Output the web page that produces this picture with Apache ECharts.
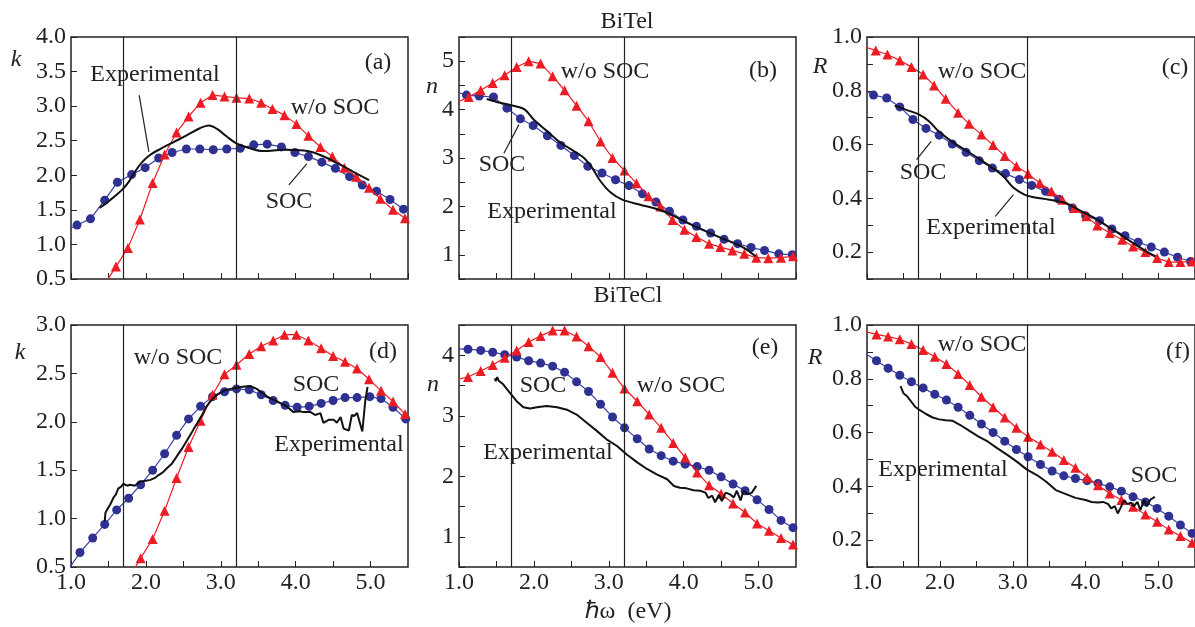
<!DOCTYPE html>
<html>
<head>
<meta charset="utf-8">
<script src="https://cdn.jsdelivr.net/npm/echarts@6/dist/echarts.min.js"></script>
<style>html,body{margin:0;padding:0;background:#fff}#chart{width:1195px;height:627px}</style>
</head>
<body>
<div id="chart"></div>
<script>
// photon energy (eV) vs value
const aSoc = [[0.90,1.19],[1.08,1.28],[1.26,1.37],[1.45,1.64],[1.62,1.90],[1.81,2.01],[1.99,2.11],[2.17,2.25],[2.35,2.33],[2.54,2.38],[2.72,2.38],[2.90,2.37],[3.08,2.38],[3.26,2.39],[3.44,2.44],[3.62,2.45],[3.81,2.41],[3.99,2.33],[4.17,2.27],[4.35,2.19],[4.53,2.10],[4.72,1.98],[4.89,1.86],[5.08,1.77],[5.26,1.65],[5.44,1.51]]
const aWoSoc = [[1.44,0.41],[1.60,0.68],[1.76,0.95],[1.92,1.36],[2.09,1.89],[2.25,2.30],[2.41,2.62],[2.57,2.85],[2.73,3.05],[2.89,3.16],[3.05,3.14],[3.21,3.12],[3.38,3.11],[3.54,3.05],[3.69,2.96],[3.85,2.87],[4.01,2.74],[4.17,2.57],[4.33,2.41],[4.49,2.27],[4.65,2.11],[4.81,1.98],[4.98,1.82],[5.13,1.66],[5.30,1.50],[5.46,1.38]]
const aExp = [[1.38,1.53],[1.45,1.58],[1.52,1.64],[1.62,1.73],[1.70,1.81],[1.78,1.92],[1.86,2.06],[1.95,2.19],[2.05,2.29],[2.19,2.38],[2.37,2.48],[2.55,2.58],[2.72,2.68],[2.84,2.72],[2.95,2.67],[3.08,2.56],[3.21,2.46],[3.39,2.39],[3.57,2.35],[3.84,2.37],[4.11,2.36],[4.24,2.33],[4.42,2.25],[4.60,2.15],[4.77,2.05],[4.98,1.93]]

const bSoc = [[0.90,4.40],[1.10,4.30],[1.27,4.28],[1.46,4.26],[1.64,4.03],[1.82,3.81],[1.99,3.67],[2.18,3.46],[2.36,3.26],[2.54,3.05],[2.72,2.83],[2.91,2.69],[3.09,2.55],[3.27,2.43],[3.45,2.26],[3.63,2.09],[3.81,1.90],[3.99,1.72],[4.17,1.59],[4.36,1.45],[4.54,1.32],[4.72,1.23],[4.90,1.15],[5.08,1.09],[5.27,1.02],[5.45,1.00]]
const bWoSoc = [[0.97,4.15],[1.13,4.26],[1.29,4.40],[1.45,4.55],[1.61,4.71],[1.77,4.88],[1.93,5.00],[2.09,4.95],[2.25,4.69],[2.41,4.40],[2.57,4.08],[2.73,3.76],[2.89,3.34],[3.05,3.00],[3.21,2.74],[3.37,2.48],[3.53,2.21],[3.69,2.00],[3.85,1.72],[4.01,1.52],[4.17,1.37],[4.34,1.23],[4.49,1.16],[4.65,1.09],[4.81,1.02],[4.97,0.94],[5.13,0.93],[5.30,0.94],[5.46,0.97]]
const bExp = [[1.37,4.22],[1.55,4.14],[1.78,4.06],[1.88,4.00],[2.00,3.79],[2.18,3.55],[2.36,3.31],[2.54,3.14],[2.67,3.00],[2.78,2.79],[2.89,2.52],[3.03,2.28],[3.18,2.14],[3.43,2.03],[3.65,1.94],[3.83,1.83],[4.05,1.66],[4.23,1.53],[4.45,1.38],[4.67,1.24],[4.81,1.14],[4.96,0.97]]

const cSoc = [[0.90,0.81],[1.09,0.784],[1.27,0.773],[1.45,0.740],[1.63,0.693],[1.81,0.660],[1.99,0.635],[2.17,0.602],[2.36,0.571],[2.54,0.540],[2.72,0.513],[2.90,0.492],[3.09,0.470],[3.26,0.448],[3.45,0.426],[3.63,0.397],[3.82,0.364],[4.00,0.335],[4.19,0.317],[4.36,0.286],[4.54,0.261],[4.72,0.237],[4.90,0.219],[5.08,0.200],[5.26,0.181],[5.44,0.165]]
const cWoSoc = [[0.95,0.965],[1.12,0.950],[1.28,0.935],[1.45,0.913],[1.61,0.888],[1.77,0.861],[1.92,0.820],[2.08,0.770],[2.25,0.718],[2.40,0.677],[2.57,0.637],[2.73,0.598],[2.89,0.557],[3.05,0.519],[3.21,0.491],[3.37,0.457],[3.53,0.426],[3.68,0.395],[3.84,0.364],[4.01,0.333],[4.16,0.299],[4.33,0.271],[4.50,0.246],[4.65,0.221],[4.82,0.200],[4.98,0.178],[5.14,0.163],[5.30,0.163],[5.46,0.165]]
const cExp = [[1.38,0.745],[1.53,0.730],[1.71,0.712],[1.85,0.687],[1.98,0.650],[2.16,0.612],[2.34,0.581],[2.52,0.550],[2.69,0.519],[2.87,0.482],[3.01,0.439],[3.16,0.414],[3.27,0.405],[3.50,0.395],[3.72,0.383],[3.94,0.352],[4.12,0.327],[4.30,0.296],[4.48,0.265],[4.65,0.234],[4.83,0.203],[4.96,0.184]]

const dSoc = [[0.90,0.40],[1.12,0.65],[1.29,0.80],[1.45,0.94],[1.61,1.09],[1.77,1.21],[1.93,1.35],[2.09,1.50],[2.25,1.67],[2.41,1.86],[2.57,2.03],[2.73,2.16],[2.89,2.26],[3.05,2.31],[3.21,2.34],[3.38,2.33],[3.54,2.28],[3.70,2.22],[3.86,2.17],[4.02,2.15],[4.18,2.16],[4.34,2.19],[4.50,2.22],[4.66,2.25],[4.82,2.25],[4.99,2.26],[5.14,2.24],[5.30,2.15],[5.47,2.03]]
const dWoSoc = [[1.77,0.38],[1.93,0.59],[2.09,0.79],[2.25,1.08],[2.41,1.42],[2.57,1.74],[2.73,2.01],[2.89,2.28],[3.05,2.49],[3.21,2.59],[3.38,2.70],[3.54,2.78],[3.70,2.84],[3.85,2.90],[4.01,2.90],[4.17,2.84],[4.34,2.76],[4.50,2.68],[4.66,2.62],[4.82,2.55],[4.98,2.44],[5.14,2.32],[5.30,2.21],[5.46,2.08]]
const dExp = [[1.45,0.97],[1.46,1.06],[1.48,1.09],[1.52,1.14],[1.54,1.12],[1.57,1.22],[1.60,1.25],[1.63,1.31],[1.67,1.33],[1.70,1.36],[1.75,1.34],[1.79,1.35],[1.85,1.34],[1.92,1.38],[2.00,1.39],[2.06,1.40],[2.12,1.42],[2.17,1.45],[2.23,1.48],[2.28,1.52],[2.35,1.57],[2.41,1.64],[2.48,1.72],[2.55,1.81],[2.62,1.90],[2.68,1.98],[2.75,2.07],[2.81,2.16],[2.88,2.23],[2.95,2.28],[3.04,2.32],[3.13,2.34],[3.26,2.36],[3.39,2.37],[3.48,2.34],[3.55,2.30],[3.62,2.26],[3.75,2.21],[3.88,2.16],[3.97,2.10],[4.05,2.11],[4.11,2.10],[4.20,2.10],[4.26,2.07],[4.33,2.09],[4.37,1.99],[4.44,2.02],[4.51,2.02],[4.55,1.99],[4.60,2.05],[4.64,1.93],[4.71,1.91],[4.75,2.07],[4.78,2.06],[4.82,2.09],[4.89,1.90],[4.93,2.22],[4.96,2.36]]

const eSoc = [[0.90,4.11],[1.12,4.10],[1.29,4.08],[1.45,4.05],[1.61,4.01],[1.77,3.97],[1.93,3.91],[2.09,3.87],[2.25,3.82],[2.41,3.72],[2.57,3.56],[2.73,3.40],[2.89,3.19],[3.05,2.98],[3.21,2.80],[3.38,2.62],[3.54,2.45],[3.70,2.34],[3.86,2.25],[4.02,2.20],[4.18,2.16],[4.34,2.10],[4.50,1.99],[4.66,1.87],[4.82,1.76],[4.98,1.61],[5.14,1.45],[5.30,1.27],[5.46,1.15]]
const eWoSoc = [[0.90,3.58],[1.12,3.64],[1.29,3.74],[1.45,3.84],[1.61,3.96],[1.77,4.08],[1.93,4.22],[2.09,4.32],[2.25,4.41],[2.41,4.41],[2.57,4.31],[2.73,4.15],[2.89,3.97],[3.05,3.71],[3.21,3.45],[3.38,3.24],[3.54,3.02],[3.70,2.80],[3.86,2.55],[4.02,2.31],[4.18,2.06],[4.34,1.85],[4.50,1.71],[4.66,1.55],[4.82,1.40],[4.98,1.22],[5.14,1.10],[5.30,0.98],[5.46,0.87]]
const eExp = [[1.48,3.62],[1.49,3.57],[1.51,3.64],[1.53,3.58],[1.59,3.52],[1.68,3.38],[1.77,3.24],[1.86,3.14],[1.95,3.12],[2.04,3.14],[2.17,3.16],[2.31,3.14],[2.44,3.10],[2.57,3.02],[2.71,2.88],[2.84,2.75],[2.97,2.61],[3.11,2.50],[3.24,2.36],[3.38,2.23],[3.51,2.12],[3.64,2.03],[3.78,1.95],[3.87,1.84],[3.95,1.81],[4.04,1.80],[4.13,1.77],[4.22,1.76],[4.29,1.73],[4.33,1.64],[4.38,1.68],[4.42,1.57],[4.47,1.69],[4.51,1.59],[4.56,1.73],[4.62,1.70],[4.67,1.65],[4.71,1.76],[4.76,1.60],[4.80,1.76],[4.85,1.70],[4.91,1.73],[4.97,1.84]]

const fSoc = [[0.90,0.907],[1.13,0.867],[1.29,0.839],[1.45,0.813],[1.61,0.789],[1.77,0.766],[1.93,0.742],[2.09,0.721],[2.25,0.694],[2.41,0.664],[2.57,0.632],[2.73,0.600],[2.89,0.568],[3.05,0.537],[3.21,0.510],[3.38,0.481],[3.54,0.457],[3.70,0.439],[3.86,0.429],[4.02,0.421],[4.17,0.411],[4.33,0.398],[4.49,0.382],[4.65,0.361],[4.82,0.342],[4.98,0.318],[5.14,0.289],[5.30,0.256],[5.46,0.225]]
const fWoSoc = [[0.90,0.98],[1.13,0.965],[1.29,0.957],[1.45,0.947],[1.61,0.929],[1.77,0.907],[1.93,0.882],[2.09,0.855],[2.25,0.818],[2.41,0.777],[2.57,0.733],[2.73,0.694],[2.89,0.656],[3.05,0.618],[3.21,0.584],[3.38,0.556],[3.54,0.529],[3.70,0.498],[3.86,0.469],[4.02,0.433],[4.17,0.404],[4.33,0.373],[4.49,0.349],[4.65,0.324],[4.82,0.295],[4.98,0.268],[5.14,0.239],[5.30,0.215],[5.46,0.190]]
const fExp = [[1.46,0.773],[1.48,0.760],[1.50,0.746],[1.55,0.735],[1.59,0.721],[1.66,0.696],[1.72,0.684],[1.81,0.669],[1.90,0.656],[1.99,0.649],[2.08,0.646],[2.17,0.644],[2.28,0.628],[2.39,0.609],[2.52,0.587],[2.66,0.566],[2.79,0.541],[2.93,0.516],[3.06,0.491],[3.19,0.463],[3.33,0.442],[3.46,0.417],[3.59,0.386],[3.73,0.371],[3.86,0.357],[4.00,0.349],[4.08,0.342],[4.17,0.340],[4.24,0.342],[4.31,0.334],[4.35,0.318],[4.40,0.326],[4.44,0.299],[4.48,0.321],[4.53,0.349],[4.57,0.334],[4.62,0.339],[4.66,0.326],[4.71,0.342],[4.75,0.311],[4.80,0.349],[4.84,0.326],[4.89,0.351],[4.95,0.361]]

// vertical guide lines (eV)
const guideLines = [1.7, 3.2]

// leader lines of the labels, [from, to] in data units
const aLeaders = [[[1.91, 3.16], [2.04, 2.34]], [[3.91, 1.86], [4.15, 2.17]]]
const bLeaders = [[[1.60, 3.10], [1.80, 3.69]]]
const cLeaders = [[[1.68, 0.544], [1.88, 0.612]], [[2.76, 0.333], [3.01, 0.414]]]

const FONT = '"Liberation Serif", "Times New Roman", serif'
const RED = '#ec1c24'
const BLUE = '#2e3192'
const BLUE_LINE = '#3d42a8'

const oneDecimal = v => v.toFixed(1)
const integersOnly = v => Math.abs(v - Math.round(v)) < 1e-6 ? String(Math.round(v)) : ''
const evenTenths = v => Math.round(v * 10) % 2 === 0 ? v.toFixed(1) : ''

const panels = [
  {soc: aSoc, wo: aWoSoc, exp: aExp, leaders: aLeaders, yMin: 0.5, yMax: 4.0, yStep: 0.5, fmt: oneDecimal, left: 71, top: 37, xLabels: false, smooth: 0.35},
  {soc: bSoc, wo: bWoSoc, exp: bExp, leaders: bLeaders, yMin: 0.5, yMax: 5.5, yStep: 0.5, fmt: integersOnly, left: 459, top: 37, xLabels: false, smooth: 0.35},
  {soc: cSoc, wo: cWoSoc, exp: cExp, leaders: cLeaders, yMin: 0.1, yMax: 1.0, yStep: 0.1, fmt: evenTenths, left: 867, top: 37, xLabels: false, smooth: 0.35},
  {soc: dSoc, wo: dWoSoc, exp: dExp, leaders: [], yMin: 0.5, yMax: 3.0, yStep: 0.5, fmt: oneDecimal, left: 71, top: 325, xLabels: true, smooth: false},
  {soc: eSoc, wo: eWoSoc, exp: eExp, leaders: [], yMin: 0.5, yMax: 4.5, yStep: 0.5, fmt: integersOnly, left: 459, top: 325, xLabels: true, smooth: false},
  {soc: fSoc, wo: fWoSoc, exp: fExp, leaders: [], yMin: 0.1, yMax: 1.0, yStep: 0.1, fmt: evenTenths, left: 867, top: 325, xLabels: true, smooth: false}
]

const grid = [], xAxis = [], yAxis = [], series = []
panels.forEach((p, i) => {
  grid.push({left: p.left, top: p.top, width: 337, height: 242, show: true, borderColor: '#222', borderWidth: 1.5, backgroundColor: 'transparent'})
  xAxis.push({
    type: 'value', gridIndex: i, min: 1, max: 5.5, interval: 0.5,
    axisLine: {show: false}, splitLine: {show: false},
    axisTick: {show: true, inside: true, length: 6, lineStyle: {color: '#222', width: 1}},
    axisLabel: {show: p.xLabels, margin: 4, color: '#222', fontFamily: FONT, fontSize: 24, showMinLabel: true, showMaxLabel: false,
      formatter: v => integersOnly(v) === '' ? '' : v.toFixed(1)}
  })
  yAxis.push({
    type: 'value', gridIndex: i, min: p.yMin, max: p.yMax, interval: p.yStep,
    axisLine: {show: false}, splitLine: {show: false},
    axisTick: {show: true, inside: true, length: 6, lineStyle: {color: '#222', width: 1}},
    axisLabel: {margin: 5, color: '#222', fontFamily: FONT, fontSize: 24, showMinLabel: true, showMaxLabel: true, formatter: p.fmt}
  })
  series.push({
    type: 'line', xAxisIndex: i, yAxisIndex: i, data: p.soc, clip: true,
    symbol: 'circle', symbolSize: 9, itemStyle: {color: BLUE}, lineStyle: {color: BLUE_LINE, width: 1.2}, z: 3
  })
  series.push({
    type: 'line', xAxisIndex: i, yAxisIndex: i, data: p.wo, clip: true,
    symbol: 'triangle', symbolSize: 10, itemStyle: {color: RED}, lineStyle: {color: RED, width: 1.2}, z: 4
  })
  series.push({
    type: 'line', xAxisIndex: i, yAxisIndex: i, data: p.exp, clip: true, smooth: p.smooth,
    showSymbol: false, lineStyle: {color: '#111', width: 2}, z: 5,
    markLine: {
      silent: true, symbol: 'none', animation: false, label: {show: false},
      lineStyle: {color: '#222', width: 1.2, type: 'solid'},
      data: guideLines.map(x => ({xAxis: x})).concat(
        p.leaders.map(l => [{coord: l[0]}, {coord: l[1]}]))
    }
  })
})

const txt = (text, x, y, extra) => ({
  type: 'text', x, y, silent: true,
  style: Object.assign({text, fill: '#222', font: '24px ' + FONT, textAlign: 'center', textVerticalAlign: 'middle'}, extra || {})
})
const ital = (text, x, y) => txt(text, x, y, {font: 'italic 24px ' + FONT})

const graphic = [
  txt('BiTel', 627, 22), txt('BiTeCl', 628, 296), txt('ℏω  (eV)', 628, 612),
  ital('k', 16, 60), ital('n', 432, 87), ital('R', 820, 67),
  ital('k', 20, 353), ital('n', 433, 385), ital('R', 815, 358),
  txt('(a)', 378, 63), txt('(b)', 763, 71), txt('(c)', 1175, 68),
  txt('(d)', 383, 352), txt('(e)', 765, 348), txt('(f)', 1178, 352),
  txt('Experimental', 155, 75), txt('w/o SOC', 335, 108), txt('SOC', 289, 202),
  txt('w/o SOC', 605, 72), txt('SOC', 502, 165), txt('Experimental', 552, 212),
  txt('w/o SOC', 982, 72), txt('SOC', 923, 173), txt('Experimental', 991, 228),
  txt('w/o SOC', 178, 358), txt('SOC', 316, 385), txt('Experimental', 339, 445),
  txt('SOC', 543, 386), txt('w/o SOC', 681, 386), txt('Experimental', 548, 453),
  txt('w/o SOC', 982, 345), txt('Experimental', 943, 470), txt('SOC', 1154, 476)
]

const chart = echarts.init(document.getElementById('chart'))
chart.setOption({
  animation: false,
  backgroundColor: '#fff',
  grid, xAxis, yAxis, series, graphic
})
</script>
</body>
</html>
